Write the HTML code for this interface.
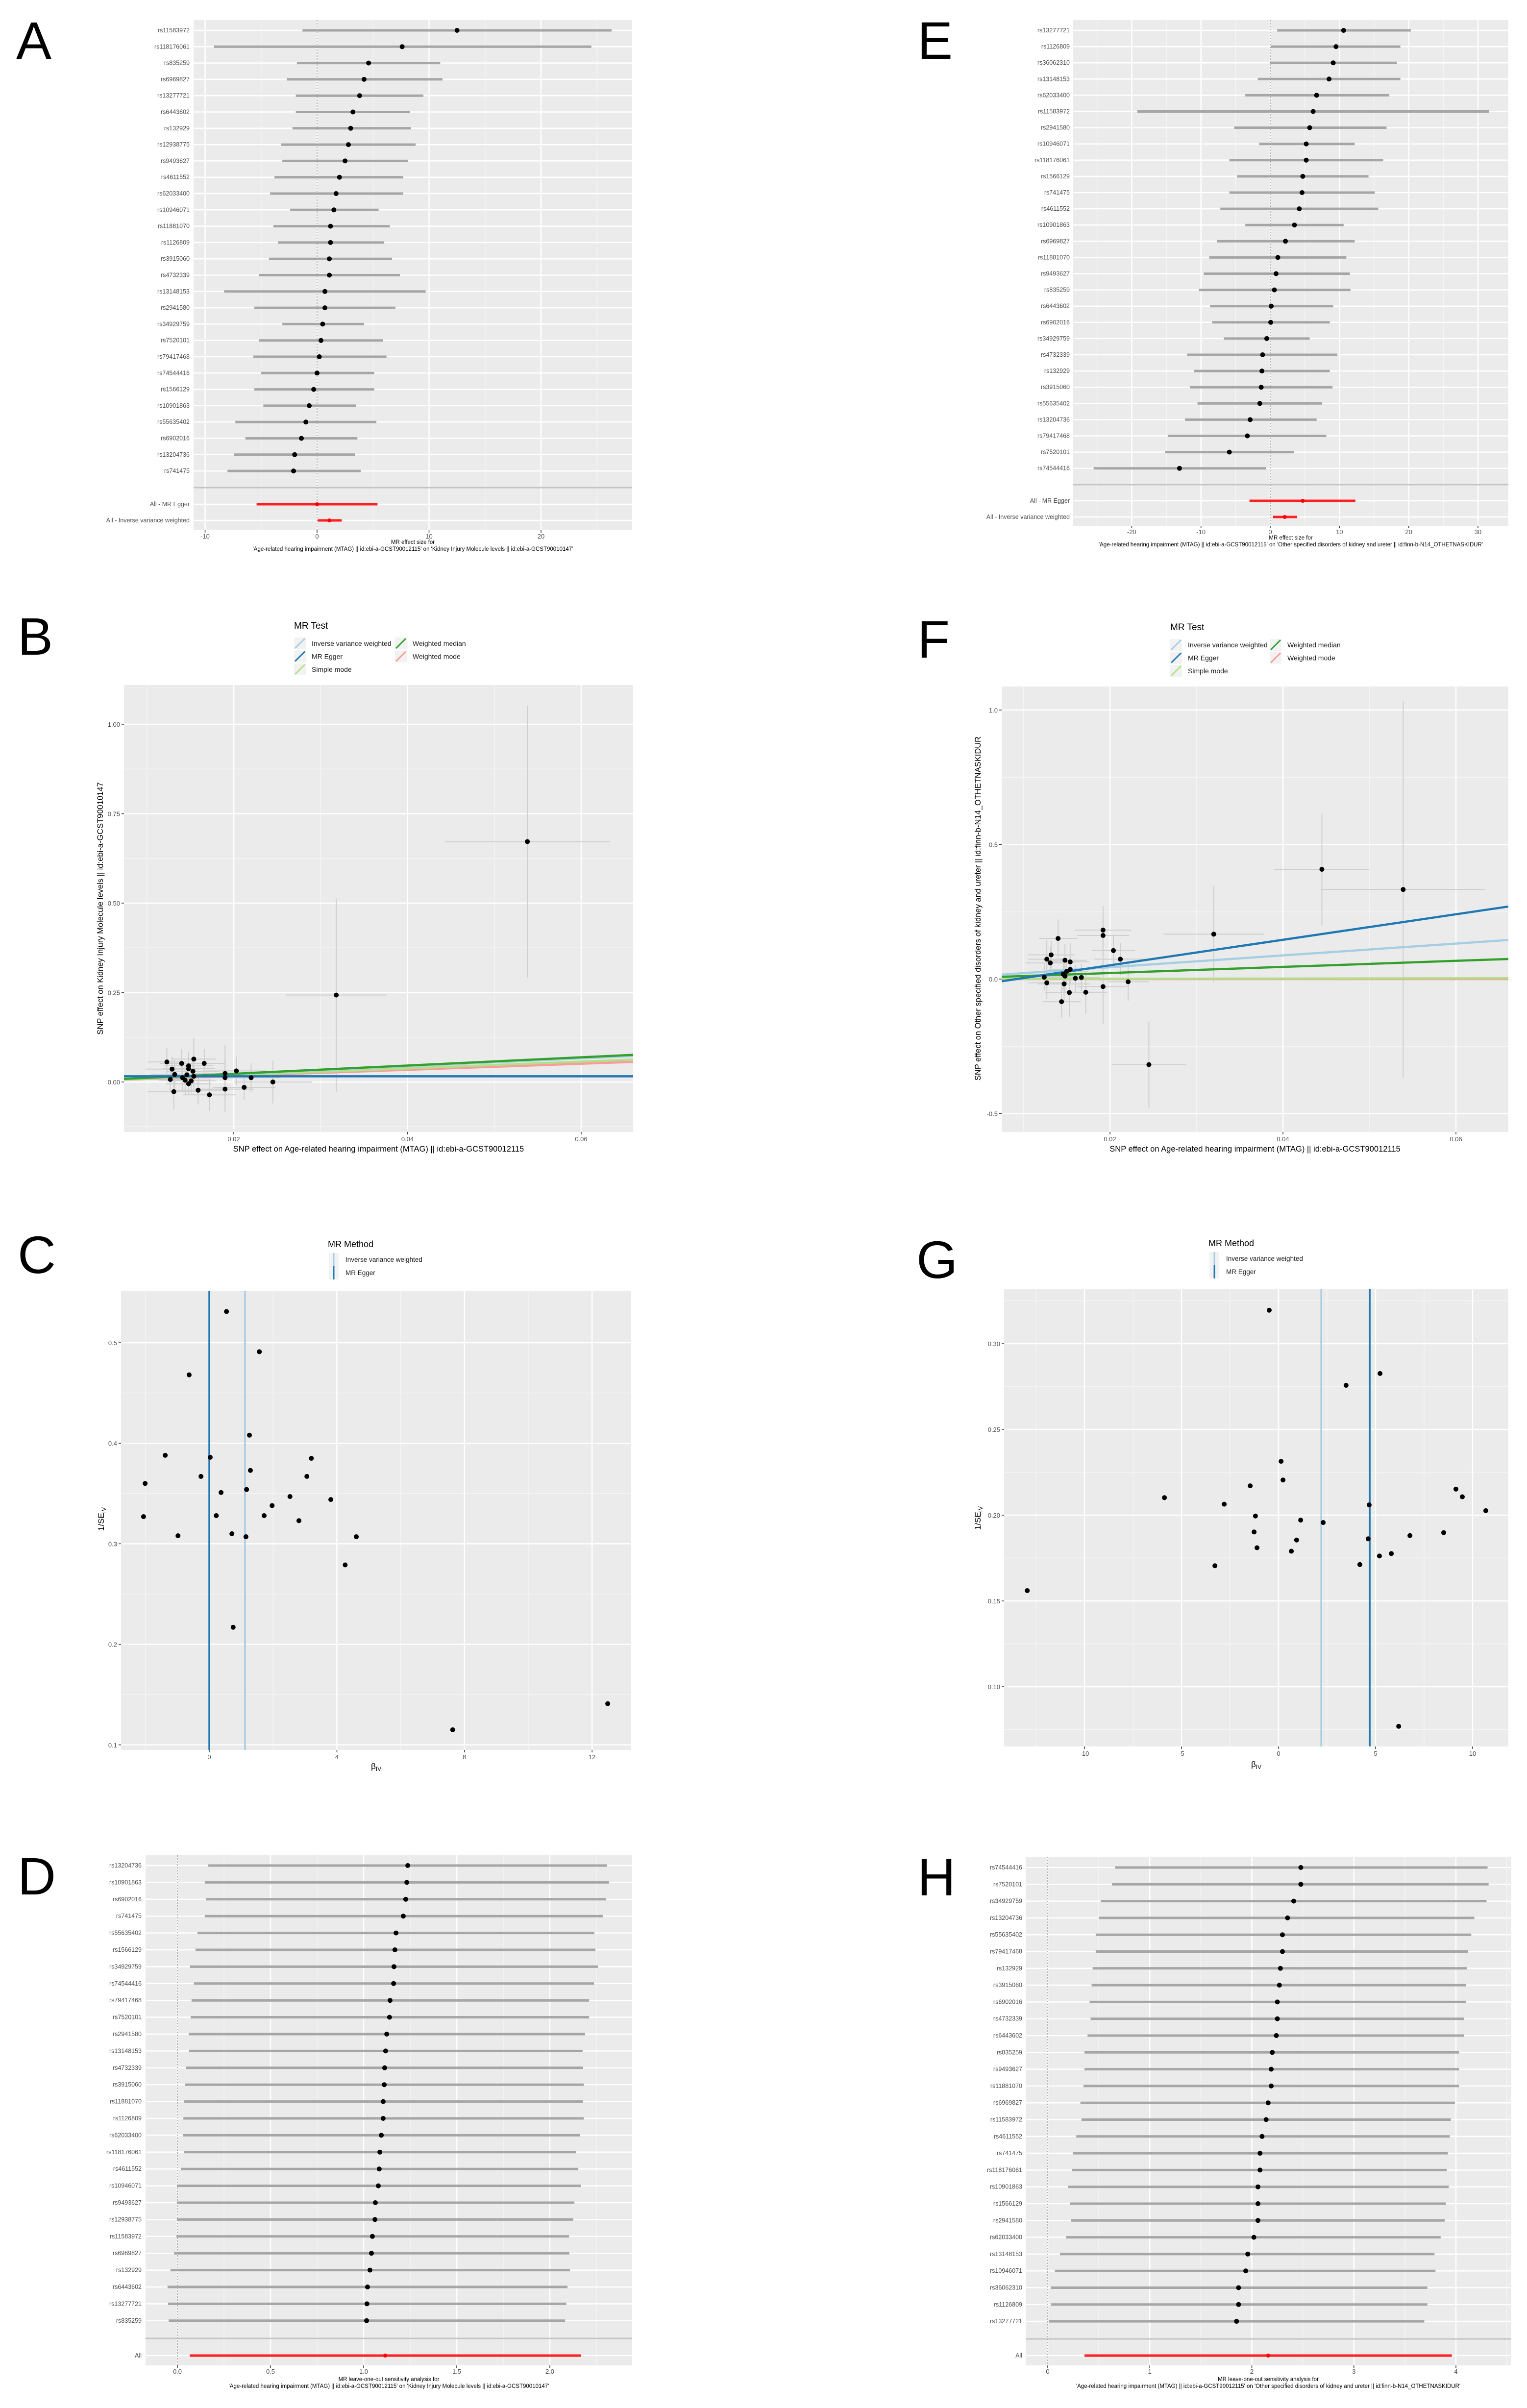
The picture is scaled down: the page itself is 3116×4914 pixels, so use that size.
<!DOCTYPE html>
<html><head><meta charset="utf-8"><title>MR figure</title>
<style>
html,body{margin:0;padding:0;background:#fff;}
svg{display:block;font-family:"Liberation Sans",Arial,sans-serif;}
.letter{font-family:"Liberation Sans Narrow","Liberation Sans",sans-serif;}
</style></head>
<body>
<svg id="fig" xmlns="http://www.w3.org/2000/svg" width="3116" height="4914" viewBox="0 0 3116 4914"></svg>
<script>
// ---------- DATA ----------
const aLabels=["rs11583972","rs118176061","rs835259","rs6969827","rs13277721","rs6443602","rs132929","rs12938775","rs9493627","rs4611552","rs62033400","rs10946071","rs11881070","rs1126809","rs3915060","rs4732339","rs13148153","rs2941580","rs34929759","rs7520101","rs79417468","rs74544416","rs1566129","rs10901863","rs55635402","rs6902016","rs13204736","rs741475"];
const aBeta=[12.5,7.6,4.6,4.2,3.8,3.2,3.0,2.8,2.5,2.0,1.7,1.5,1.2,1.2,1.1,1.1,0.7,0.7,0.5,0.35,0.2,0.0,-0.3,-0.7,-1.0,-1.4,-2.0,-2.1];
const aLo=[-1.3,-9.2,-1.8,-2.7,-1.9,-1.9,-2.2,-3.2,-3.1,-3.8,-4.2,-2.4,-3.9,-3.5,-4.3,-5.2,-8.3,-5.6,-3.1,-5.2,-5.7,-5.0,-5.6,-4.8,-7.3,-6.4,-7.4,-8.0];
const aHi=[26.3,24.5,11.0,11.2,9.5,8.3,8.4,8.8,8.1,7.7,7.7,5.5,6.5,6.0,6.7,7.4,9.7,7.0,4.2,5.9,6.2,5.1,5.1,3.5,5.3,3.6,3.4,3.9];
const aSumLabels=["All - MR Egger","All - Inverse variance weighted"];
const aSumBeta=[0.0,1.1];
const aSumLo=[-5.4,0.05];
const aSumHi=[5.4,2.2];
const aTicks=[-10,0,10,20];

const eLabels=["rs13277721","rs1126809","rs36062310","rs13148153","rs62033400","rs11583972","rs2941580","rs10946071","rs118176061","rs1566129","rs741475","rs4611552","rs10901863","rs6969827","rs11881070","rs9493627","rs835259","rs6443602","rs6902016","rs34929759","rs4732339","rs132929","rs3915060","rs55635402","rs13204736","rs79417468","rs7520101","rs74544416"];
const eBeta=[10.6,9.5,9.1,8.5,6.7,6.2,5.7,5.2,5.2,4.7,4.6,4.2,3.5,2.2,1.1,0.85,0.6,0.15,0.07,-0.5,-1.1,-1.2,-1.3,-1.5,-2.9,-3.3,-5.9,-13.1];
const eLo=[1.0,0.1,0.0,-1.8,-3.6,-19.2,-5.2,-1.6,-5.9,-4.8,-5.9,-7.2,-3.6,-7.7,-8.8,-9.6,-10.3,-8.7,-8.4,-6.7,-12.0,-11.0,-11.6,-10.5,-12.3,-14.8,-15.2,-25.5];
const eHi=[20.3,18.8,18.3,18.8,17.2,31.6,16.8,12.2,16.3,14.2,15.1,15.6,10.6,12.2,11.0,11.5,11.6,9.1,8.6,5.7,9.7,8.6,9.0,7.5,6.7,8.1,3.4,-0.6];
const eSumLabels=["All - MR Egger","All - Inverse variance weighted"];
const eSumBeta=[4.7,2.1];
const eSumLo=[-3.0,0.4];
const eSumHi=[12.3,3.9];
const eTicks=[-20,-10,0,10,20,30];

const bX=[0.0538,0.0318,0.0123,0.0129,0.0140,0.0148,0.0148,0.0154,0.0166,0.0153,0.0132,0.0146,0.0127,0.0144,0.0151,0.0148,0.0131,0.0159,0.0172,0.0190,0.0190,0.0203,0.0190,0.0212,0.0220,0.0245,0.0141,0.0154];
const bY=[0.672,0.243,0.056,0.036,0.052,0.045,0.037,0.064,0.052,0.030,0.021,0.020,0.007,0.005,0.003,-0.005,-0.027,-0.023,-0.036,0.024,0.012,0.031,-0.020,-0.015,0.012,0.000,0.012,0.016];
const bSeX=[0.0095,0.0058,0.0022,0.0030,0.0025,0.0028,0.0030,0.0026,0.0024,0.0030,0.0028,0.0032,0.0025,0.0030,0.0028,0.0026,0.0030,0.0028,0.0030,0.0035,0.0038,0.0035,0.0033,0.0036,0.0034,0.0045,0.0030,0.0028];
const bSeY=[0.38,0.27,0.04,0.035,0.04,0.04,0.035,0.06,0.04,0.035,0.04,0.03,0.035,0.04,0.035,0.03,0.05,0.04,0.045,0.08,0.06,0.04,0.065,0.035,0.04,0.06,0.04,0.035];
const bIntercepts=[0,0.016,0,0,0];
const bSlopes=[1.1,0.0,0.95,1.15,0.85];
const xTicksBF=[0.02,0.04,0.06];
const bYTicks=[0,0.25,0.5,0.75,1.0];

const fX=[0.0539,0.0445,0.0320,0.0245,0.0192,0.0192,0.0140,0.0204,0.0132,0.0127,0.0148,0.0131,0.0154,0.0212,0.0154,0.0146,0.0148,0.0124,0.0160,0.0167,0.0127,0.0147,0.0221,0.0153,0.0172,0.0192,0.0144,0.0150];
const fY=[0.333,0.408,0.167,-0.318,0.182,0.162,0.151,0.106,0.090,0.074,0.070,0.060,0.064,0.074,0.036,0.018,0.011,0.007,0.003,0.006,-0.014,-0.018,-0.010,-0.050,-0.049,-0.028,-0.084,0.029];
const fSeX=[0.0095,0.0055,0.0058,0.0043,0.0033,0.0030,0.0022,0.0025,0.0027,0.0022,0.0025,0.0028,0.0022,0.0030,0.0025,0.0027,0.0022,0.0024,0.0026,0.0022,0.0022,0.0030,0.0024,0.0028,0.0025,0.0030,0.0022,0.0025];
const fSeY=[0.70,0.21,0.18,0.16,0.09,0.07,0.07,0.06,0.05,0.07,0.06,0.06,0.07,0.06,0.05,0.06,0.06,0.05,0.05,0.05,0.06,0.07,0.07,0.09,0.08,0.14,0.06,0.05];
const fIntercepts=[0,-0.0435,0,0,0];
const fSlopes=[2.2,4.74,0.05,1.13,0.0];
const fYTicks=[-0.5,0,0.5,1.0];

const lineNames=["Inverse variance weighted","MR Egger","Simple mode","Weighted median","Weighted mode"];

const cBeta=[0.54,1.57,-0.63,1.26,-1.38,0.03,3.20,1.29,-2.01,-0.26,3.06,1.17,0.37,2.53,3.81,1.97,-2.06,0.22,1.72,2.81,-0.98,0.71,1.15,4.61,4.26,0.75,7.63,12.49];
const cInvSE=[0.531,0.491,0.468,0.408,0.388,0.386,0.385,0.373,0.360,0.367,0.367,0.354,0.351,0.347,0.344,0.338,0.327,0.328,0.328,0.323,0.308,0.310,0.307,0.307,0.279,0.217,0.115,0.141];
const cMethodBeta=[1.12,0.0];
const cXTicks=[0,4,8,12];
const cYTicks=[0.1,0.2,0.3,0.4,0.5];

const gBeta=[-0.48,5.23,3.48,0.13,0.23,-1.46,9.14,-5.88,9.47,-2.80,4.67,10.68,-1.19,1.14,2.30,-1.26,8.51,6.77,4.62,0.93,-1.11,0.66,5.81,5.20,-3.28,4.19,-12.95,6.19];
const gInvSE=[0.3195,0.2826,0.2757,0.2314,0.2205,0.2171,0.2152,0.2102,0.2107,0.2064,0.2060,0.2026,0.1995,0.1971,0.1957,0.1902,0.1898,0.1881,0.1862,0.1855,0.1810,0.1790,0.1776,0.1762,0.1705,0.1712,0.1560,0.0769];
const gMethodBeta=[2.2,4.7];
const gXTicks=[-10,-5,0,5,10];
const gYTicks=[0.10,0.15,0.20,0.25,0.30];

const dLabels=["rs13204736","rs10901863","rs6902016","rs741475","rs55635402","rs1566129","rs34929759","rs74544416","rs79417468","rs7520101","rs2941580","rs13148153","rs4732339","rs3915060","rs11881070","rs1126809","rs62033400","rs118176061","rs4611552","rs10946071","rs9493627","rs12938775","rs11583972","rs6969827","rs132929","rs6443602","rs13277721","rs835259"];
const dBeta=[1.237,1.232,1.226,1.213,1.174,1.168,1.163,1.161,1.142,1.139,1.124,1.118,1.113,1.111,1.105,1.105,1.095,1.087,1.084,1.079,1.063,1.061,1.047,1.042,1.034,1.021,1.018,1.016];
const dLo=[0.166,0.147,0.153,0.147,0.108,0.097,0.068,0.089,0.076,0.071,0.061,0.063,0.047,0.042,0.037,0.032,0.029,0.037,0.018,-0.003,-0.003,-0.003,-0.005,-0.018,-0.037,-0.053,-0.05,-0.047];
const dHi=[2.308,2.318,2.303,2.284,2.239,2.245,2.258,2.237,2.211,2.211,2.189,2.176,2.179,2.182,2.179,2.182,2.161,2.142,2.153,2.168,2.132,2.126,2.103,2.105,2.108,2.095,2.089,2.082];
const dSumLabels=["All"];
const dSumBeta=[1.116];
const dSumLo=[0.066];
const dSumHi=[2.166];
const dTicks=[0.0,0.5,1.0,1.5,2.0];

const hLabels=["rs74544416","rs7520101","rs34929759","rs13204736","rs55635402","rs79417468","rs132929","rs3915060","rs6902016","rs4732339","rs6443602","rs835259","rs9493627","rs11881070","rs6969827","rs11583972","rs4611552","rs741475","rs118176061","rs10901863","rs1566129","rs2941580","rs62033400","rs13148153","rs10946071","rs36062310","rs1126809","rs13277721"];
const hBeta=[2.48,2.48,2.41,2.35,2.30,2.30,2.28,2.27,2.25,2.25,2.24,2.20,2.19,2.19,2.16,2.14,2.10,2.08,2.08,2.06,2.06,2.06,2.02,1.96,1.94,1.87,1.87,1.85];
const hLo=[0.66,0.63,0.52,0.50,0.47,0.47,0.44,0.43,0.41,0.42,0.39,0.36,0.36,0.35,0.32,0.33,0.28,0.25,0.24,0.20,0.22,0.23,0.18,0.12,0.07,0.03,0.03,0.01];
const hHi=[4.31,4.32,4.30,4.18,4.15,4.12,4.11,4.10,4.10,4.08,4.08,4.03,4.03,4.03,3.99,3.95,3.94,3.92,3.91,3.93,3.90,3.89,3.85,3.79,3.80,3.72,3.72,3.69];
const hSumLabels=["All"];
const hSumBeta=[2.16];
const hSumLo=[0.36];
const hSumHi=[3.96];
const hTicks=[0,1,2,3,4];

// ---------- HELPERS ----------
const NS='http://www.w3.org/2000/svg';
const svg=document.getElementById('fig');
function mk(tag,attrs,parent){const e=document.createElementNS(NS,tag);for(const k in attrs)e.setAttribute(k,attrs[k]);(parent||svg).appendChild(e);return e;}
function txt(x,y,s,size,attrs,parent){const e=mk('text',Object.assign({x:x,y:y,'font-size':size},attrs||{}),parent);e.textContent=s;return e;}
function fmt(v,d){return v.toFixed(d);}
let clipId=0;

function letter(x,y,s){
  const t=txt(x,y,s,108,{'class':'letter','fill':'#000'});
  
  
}

function panelBg(g,x0,y0,x1,y1){
  const r=mk('rect',{x:x0,y:y0,width:x1-x0,height:y1-y0,fill:'#EBEBEB'},g);
  
  
}

function forest(c){
  const g=mk('g',{});
  
  
  const sx=v=>c.zeroX+v*c.ppu;
  panelBg(g,c.x0,c.y0,c.x1,c.y1);
  const step=c.ticks[1]-c.ticks[0];
  for(let i=-1;i<c.ticks.length;i++){
    const mv=c.ticks[0]+step*(i+0.5);const mx=sx(mv);
    if(mx>c.x0&&mx<c.x1){const l=mk('line',{x1:mx,x2:mx,y1:c.y0,y2:c.y1,stroke:'#F5F5F5','stroke-width':1.5},g);
      
      }
  }
  c.ticks.forEach(t=>{const x=sx(t);
    const l=mk('line',{x1:x,x2:x,y1:c.y0,y2:c.y1,stroke:'#fff','stroke-width':2.5},g);
    
    
    const tk=mk('line',{x1:x,x2:x,y1:c.y1,y2:c.y1+5,stroke:'#333','stroke-width':1.5},g);
    
    
    const lb=txt(x,c.y1+17,c.tickFmt(t),13,{'text-anchor':'middle',fill:'#4D4D4D'},g);
    
    
  });
  const rowYs=c.labels.map((_,i)=>c.rowY0+i*c.rowStep);
  const allRows=rowYs.concat(c.sumY);
  allRows.forEach(y=>{const l=mk('line',{x1:c.x0,x2:c.x1,y1:y,y2:y,stroke:'#fff','stroke-width':2.5},g);
    
    });
  const sep=mk('line',{x1:c.x0,x2:c.x1,y1:c.sepY,y2:c.sepY,stroke:'#C4C4C4','stroke-width':3},g);
  
  
  const z=mk('line',{x1:sx(0),x2:sx(0),y1:c.y0,y2:c.y1,stroke:'#9a9a9a','stroke-width':1.5,'stroke-dasharray':'3,3'},g);
  
  
  c.labels.forEach((lab,i)=>{const y=rowYs[i];
    const t=txt(c.labelX,y+4,lab,12.5,{'text-anchor':'end',fill:'#4D4D4D'},g);
    
    
    const ci=mk('line',{x1:sx(c.lo[i]),x2:sx(c.hi[i]),y1:y,y2:y,stroke:'#A6A6A6','stroke-width':5},g);
    
    
    const p=mk('circle',{cx:sx(c.beta[i]),cy:y,r:5,fill:'#000'},g);
    
    
  });
  c.sumLabels.forEach((lab,i)=>{const y=c.sumY[i];
    const t=txt(c.labelX,y+4,lab,12.5,{'text-anchor':'end',fill:'#4D4D4D'},g);
    
    
    const ci=mk('line',{x1:sx(c.sumLo[i]),x2:sx(c.sumHi[i]),y1:y,y2:y,stroke:'#FF2020','stroke-width':5},g);
    
    
    const p=mk('circle',{cx:sx(c.sumBeta[i]),cy:y,r:4,fill:'#FF0000'},g);
    
    
  });
  const cx=(c.x0+c.x1)/2;
  c.title.forEach((s,i)=>{const t=txt(cx,c.titleY+i*14,s,11.5,{'text-anchor':'middle',fill:'#000'},g);
    
    });
}

const lineColors=['#A6CEE3','#1F78B4','#B2DF8A','#33A02C','#FB9A99'];

function legendMR(x,y,dy,col2x,textOff){
  const g=mk('g',{});
  
  
  const tt=txt(x,y,'MR Test',19,{fill:'#000'},g);
  
  
  const pos=[[x,0],[x,1],[x,2],[col2x,0],[col2x,1]];
  const order=[0,1,2,3,4];
  order.forEach((k,i)=>{const px=pos[i][0],py=y+18+pos[i][1]*dy;
    const bg=mk('rect',{x:px,y:py,width:24,height:24,fill:'#F2F2F2'},g);
    
    
    const l=mk('line',{x1:px+2,y1:py+22,x2:px+22,y2:py+2,stroke:lineColors[k],'stroke-width':3},g);
    
    
    const t=txt(px+textOff,py+17,lineNames[k],14,{fill:'#1a1a1a'},g);
    
    
  });
}

function scatterPanel(c){
  const g=mk('g',{});
  
  
  const sx=v=>c.xRef+(v-c.xRefV)*c.xppu, sy=v=>c.yZero-v*c.yppu;
  panelBg(g,c.x0,c.y0,c.x1,c.y1);
  c.xMinor.forEach(v=>{const l=mk('line',{x1:sx(v),x2:sx(v),y1:c.y0,y2:c.y1,stroke:'#F5F5F5','stroke-width':1.5},g);
    
    });
  c.yMinor.forEach(v=>{const l=mk('line',{x1:c.x0,x2:c.x1,y1:sy(v),y2:sy(v),stroke:'#F5F5F5','stroke-width':1.5},g);
    
    });
  c.xTicks.forEach(v=>{const x=sx(v);
    const l=mk('line',{x1:x,x2:x,y1:c.y0,y2:c.y1,stroke:'#fff','stroke-width':2.5},g);
    
    
    const tk=mk('line',{x1:x,x2:x,y1:c.y1,y2:c.y1+5,stroke:'#333','stroke-width':1.5},g);
    
    
    const t=txt(x,c.y1+19,c.xFmt(v),13,{'text-anchor':'middle',fill:'#4D4D4D'},g);
    
    });
  c.yTicks.forEach(v=>{const y=sy(v);
    const l=mk('line',{x1:c.x0,x2:c.x1,y1:y,y2:y,stroke:'#fff','stroke-width':2.5},g);
    
    
    const tk=mk('line',{x1:c.x0-5,x2:c.x0,y1:y,y2:y,stroke:'#333','stroke-width':1.5},g);
    
    
    const t=txt(c.x0-8,y+5,c.yFmt(v),13,{'text-anchor':'end',fill:'#4D4D4D'},g);
    
    });
  clipId++;
  const cp=mk('clipPath',{id:'clip'+clipId},g);
  mk('rect',{x:c.x0,y:c.y0,width:c.x1-c.x0,height:c.y1-c.y0},cp);
  const inner=mk('g',{'clip-path':'url(#clip'+clipId+')'},g);
  
  
  c.draw(inner,sx,sy);
  const xt=txt((c.x0+c.x1)/2,c.xTitleY,'',c.xTitleSize,{'text-anchor':'middle',fill:'#000'},g);
  c.xTitle(xt);
  
  
  const yt=txt(c.yTitleX,c.yTitleY,'',c.yTitleSize,{'text-anchor':'middle',fill:'#000',transform:'rotate(-90 '+c.yTitleX+' '+c.yTitleY+')'},g);
  c.yTitle(yt);
  
  
}

function drawMRScatter(xs,ys,sex,sey,ints,slopes,dom){
  return function(g,sx,sy){
    xs.forEach((x,i)=>{
      const h=mk('line',{x1:sx(x-sex[i]),x2:sx(x+sex[i]),y1:sy(ys[i]),y2:sy(ys[i]),stroke:'#CFCFCF','stroke-width':2},g);
      
      
      const v=mk('line',{x1:sx(x),x2:sx(x),y1:sy(ys[i]-sey[i]),y2:sy(ys[i]+sey[i]),stroke:'#CFCFCF','stroke-width':2},g);
      
      
    });
    [4,2,0,3,1].forEach(k=>{
      const l=mk('line',{x1:sx(dom[0]),y1:sy(ints[k]+slopes[k]*dom[0]),x2:sx(dom[1]),y2:sy(ints[k]+slopes[k]*dom[1]),stroke:lineColors[k],'stroke-width':4.5},g);
      
      
    });
    xs.forEach((x,i)=>{
      const p=mk('circle',{cx:sx(x),cy:sy(ys[i]),r:5,fill:'#000'},g);
      
      
    });
  };
}

function drawFunnel(bs,ws,methods){
  return function(g,sx,sy){
    const cols=['#A6CEE3','#1F78B4'];
    methods.forEach((b,k)=>{
      const l=mk('line',{x1:sx(b),x2:sx(b),y1:0,y2:4914,stroke:cols[k],'stroke-width':3.5},g);
      
      
    });
    bs.forEach((b,i)=>{
      const p=mk('circle',{cx:sx(b),cy:sy(ws[i]),r:5,fill:'#000'},g);
      
      
    });
  };
}

function legendMethod(x,y){
  const g=mk('g',{});
  
  
  const tt=txt(x,y,'MR Method',18,{fill:'#000'},g);
  
  
  ['Inverse variance weighted','MR Egger'].forEach((s,i)=>{const py=y+12+i*27;
    const bg=mk('rect',{x:x+2,y:py,width:20,height:27,fill:'#F2F2F2'},g);
    
    
    const l=mk('line',{x1:x+12,x2:x+12,y1:py,y2:py+27,stroke:['#A6CEE3','#1F78B4'][i],'stroke-width':3},g);
    
    
    const t=txt(x+36,py+18,s,13.5,{fill:'#1a1a1a'},g);
    
    
  });
}

function ivTitle(el,pre){
  const t1=mk('tspan',{},el);t1.textContent=pre;
  const t2=mk('tspan',{'font-size':'70%','dy':4},el);t2.textContent='IV';
}

// ---------- PANELS ----------
letter(33,120,'A'); letter(1872,120,'E');
letter(36,1336,'B'); letter(1872,1342,'F');
letter(36,2598,'C'); letter(1870,2608,'G');
letter(36,3866,'D'); letter(1872,3868,'H');

const sub1="'Age-related hearing impairment (MTAG) || id:ebi-a-GCST90012115' on 'Kidney Injury Molecule levels || id:ebi-a-GCST90010147'";
const sub2="'Age-related hearing impairment (MTAG) || id:ebi-a-GCST90012115' on 'Other specified disorders of kidney and ureter || id:finn-b-N14_OTHETNASKIDUR'";

forest({name:'panel-a-forest',x0:395,x1:1290,y0:41,y1:1082,zeroX:647,ppu:22.85,rowY0:62,rowStep:33.3,sepY:995,sumY:[1029,1062],labelX:387,
  labels:aLabels,beta:aBeta,lo:aLo,hi:aHi,sumLabels:aSumLabels,sumBeta:aSumBeta,sumLo:aSumLo,sumHi:aSumHi,ticks:aTicks,tickFmt:v=>String(v),
  titleY:1110,title:['MR effect size for',sub1]});
forest({name:'panel-e-forest',x0:2190,x1:3078,y0:41,y1:1073,zeroX:2592,ppu:14.13,rowY0:62,rowStep:33.1,sepY:989,sumY:[1022,1055],labelX:2183,
  labels:eLabels,beta:eBeta,lo:eLo,hi:eHi,sumLabels:eSumLabels,sumBeta:eSumBeta,sumLo:eSumLo,sumHi:eSumHi,ticks:eTicks,tickFmt:v=>String(v),
  titleY:1101,title:['MR effect size for',sub2]});

legendMR(600,1283,26.5,806,36);
scatterPanel({name:'panel-b-scatter',x0:253,x1:1292,y0:1398,y1:2310,xRef:477,xRefV:0.02,xppu:17725,yZero:2208,yppu:730,
  xTicks:xTicksBF,xMinor:[0.01,0.03,0.05],yTicks:bYTicks,yMinor:[-0.125,0.125,0.375,0.625,0.875],
  xFmt:v=>fmt(v,2),yFmt:v=>fmt(v,2),
  draw:drawMRScatter(bX,bY,bSeX,bSeY,bIntercepts,bSlopes,[0.005,0.07]),
  xTitleY:2350,xTitleSize:16.5,xTitle:el=>{el.textContent='SNP effect on Age-related hearing impairment (MTAG) || id:ebi-a-GCST90012115';},
  yTitleX:210,yTitleY:1854,yTitleSize:16.5,yTitle:el=>{el.textContent='SNP effect on Kidney Injury Molecule levels || id:ebi-a-GCST90010147';}});

legendMR(2388,1286,26.5,2591,36);
scatterPanel({name:'panel-f-scatter',x0:2044,x1:3078,y0:1401,y1:2310,xRef:2265,xRefV:0.02,xppu:17650,yZero:1998,yppu:549,
  xTicks:xTicksBF,xMinor:[0.01,0.03,0.05],yTicks:fYTicks,yMinor:[-0.25,0.25,0.75],
  xFmt:v=>fmt(v,2),yFmt:v=>fmt(v,1),
  draw:drawMRScatter(fX,fY,fSeX,fSeY,fIntercepts,fSlopes,[0.005,0.07]),
  xTitleY:2350,xTitleSize:16.5,xTitle:el=>{el.textContent='SNP effect on Age-related hearing impairment (MTAG) || id:ebi-a-GCST90012115';},
  yTitleX:2001,yTitleY:1854,yTitleSize:16.5,yTitle:el=>{el.textContent='SNP effect on Other specified disorders of kidney and ureter || id:finn-b-N14_OTHETNASKIDUR';}});

legendMethod(669,2545);
scatterPanel({name:'panel-c-funnel',x0:247,x1:1288,y0:2635,y1:3571,xRef:427,xRefV:0,xppu:65.1,yZero:2740+0.5*2052,yppu:2052,
  xTicks:cXTicks,xMinor:[-2,2,6,10],yTicks:cYTicks,yMinor:[0.15,0.25,0.35,0.45],
  xFmt:v=>String(v),yFmt:v=>fmt(v,1),
  draw:drawFunnel(cBeta,cInvSE,cMethodBeta),
  xTitleY:3610,xTitleSize:17,xTitle:el=>ivTitle(el,'β'),
  yTitleX:212,yTitleY:3100,yTitleSize:17,yTitle:el=>ivTitle(el,'1/SE')});

legendMethod(2466,2543);
scatterPanel({name:'panel-g-funnel',x0:2049,x1:3078,y0:2631,y1:3564,xRef:2609,xRefV:0,xppu:39.6,yZero:2742+0.30*3500,yppu:3500,
  xTicks:gXTicks,xMinor:[-12.5,-7.5,-2.5,2.5,7.5],yTicks:gYTicks,yMinor:[0.075,0.125,0.175,0.225,0.275,0.325],
  xFmt:v=>String(v),yFmt:v=>fmt(v,2),
  draw:drawFunnel(gBeta,gInvSE,gMethodBeta),
  xTitleY:3606,xTitleSize:17,xTitle:el=>ivTitle(el,'β'),
  yTitleX:2001,yTitleY:3098,yTitleSize:17,yTitle:el=>ivTitle(el,'1/SE')});

forest({name:'panel-d-leave-one-out',x0:297,x1:1290,y0:3786,y1:4827,zeroX:362,ppu:380,rowY0:3807,rowStep:34.4,sepY:4772,sumY:[4807],labelX:289,
  labels:dLabels,beta:dBeta,lo:dLo,hi:dHi,sumLabels:dSumLabels,sumBeta:dSumBeta,sumLo:dSumLo,sumHi:dSumHi,ticks:dTicks,tickFmt:v=>fmt(v,1),
  titleY:4859,title:['MR leave-one-out sensitivity analysis for',sub1]});
forest({name:'panel-h-leave-one-out',x0:2093,x1:3083,y0:3789,y1:4827,zeroX:2138,ppu:208.25,rowY0:3811,rowStep:34.3,sepY:4773,sumY:[4807],labelX:2086,
  labels:hLabels,beta:hBeta,lo:hLo,hi:hHi,sumLabels:hSumLabels,sumBeta:hSumBeta,sumLo:hSumLo,sumHi:hSumHi,ticks:hTicks,tickFmt:v=>String(v),
  titleY:4859,title:['MR leave-one-out sensitivity analysis for',sub2]});
</script>
</body></html>
